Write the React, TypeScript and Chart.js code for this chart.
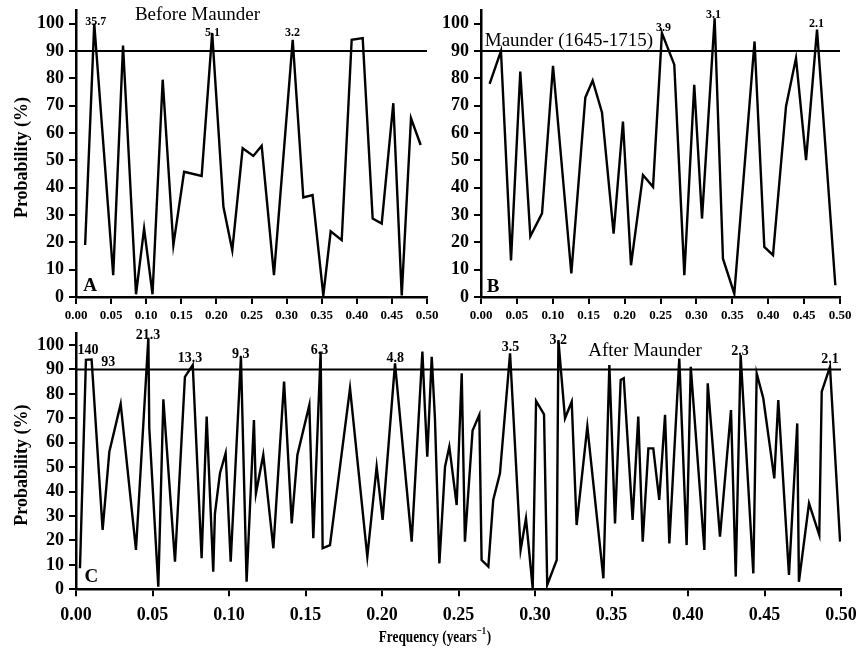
import React, { useEffect, useRef } from "react";
import { Chart, registerables } from "chart.js";

Chart.register(...registerables);

const SERIF = "'Liberation Serif', 'Times New Roman', Times, serif";

// ---------------- Data ----------------
const freqA = [0.013, 0.026, 0.053, 0.067, 0.0855, 0.097, 0.109, 0.1235, 0.1387, 0.154, 0.179, 0.194, 0.21, 0.2226, 0.2374, 0.2526, 0.2645, 0.282, 0.3087, 0.3238, 0.337, 0.3523, 0.3628, 0.3785, 0.3927, 0.4084, 0.4226, 0.4355, 0.452, 0.464, 0.4772, 0.491];
const probA = [19, 100, 8, 92, 1, 25, 1, 79.5, 19, 45.8, 44.3, 96.6, 33, 17.1, 54.4, 51.6, 55.3, 8, 94.1, 36.4, 37.3, 0.6, 24, 20.8, 94.1, 94.7, 28.7, 26.9, 70.9, 0.6, 65.4, 55.6];

const freqB = [0.012, 0.0278, 0.0418, 0.0547, 0.0687, 0.085, 0.1003, 0.1258, 0.1453, 0.1555, 0.1685, 0.1847, 0.1977, 0.2089, 0.2256, 0.2396, 0.252, 0.2692, 0.2832, 0.297, 0.3078, 0.3254, 0.337, 0.3528, 0.381, 0.3946, 0.4067, 0.4248, 0.4387, 0.4527, 0.468, 0.4935];
const probB = [78, 90, 13.4, 82.5, 22.2, 30.6, 84.6, 8.6, 73, 79.2, 67.5, 23.2, 64.2, 11.6, 44.6, 40.3, 96.6, 85, 8, 77.6, 28.7, 102, 14, 1.2, 93.5, 18.3, 15.3, 69.7, 87.4, 50.1, 97.8, 4.3];

const freqC = [
  0.0026, 0.0065, 0.0102, 0.0174, 0.0218, 0.0292, 0.0392, 0.0473, 0.0479, 0.0538,
  0.0571, 0.0588, 0.0647, 0.0712, 0.0763, 0.0821, 0.0854, 0.0865, 0.0897, 0.0908,
  0.0941, 0.0978, 0.1011, 0.1078, 0.1115, 0.1163, 0.1176, 0.1224, 0.129, 0.136,
  0.141, 0.1447, 0.1525, 0.1551, 0.1599, 0.1612, 0.166, 0.1791, 0.1904, 0.1965,
  0.2004, 0.2085, 0.2194, 0.2264, 0.2281, 0.2296, 0.2325, 0.2346, 0.2375, 0.2412,
  0.244, 0.2488, 0.2521, 0.2542, 0.2592, 0.2636, 0.2651, 0.2695, 0.2727, 0.2771,
  0.2837, 0.2906, 0.2941, 0.2985, 0.3007, 0.3059, 0.308, 0.3142, 0.3153, 0.3196,
  0.324, 0.3272, 0.3342, 0.3447, 0.3486, 0.3523, 0.356, 0.358, 0.3638, 0.3675,
  0.3704, 0.3741, 0.3773, 0.3812, 0.385, 0.3878, 0.3943, 0.3991, 0.4018, 0.4107,
  0.4129, 0.4209, 0.4281, 0.4312, 0.4344, 0.4427, 0.4449, 0.4492, 0.4564, 0.459,
  0.466, 0.4714, 0.4725, 0.4791, 0.4858, 0.4874, 0.4928, 0.4994,
];
const probC = [
  8.6, 93.9, 94.1, 24.3, 56.3, 75.9, 16.1, 103, 66, 1.1,
  77.8, 62.5, 11.3, 87, 91.8, 12.7, 70.7, 54.3, 7.2, 31,
  47.5, 55.7, 11.3, 95.2, 3.1, 69.3, 39.3, 55, 16.8, 85,
  27, 55, 75.4, 20.9, 97.3, 16.8, 18.1, 82.3, 13.4, 50.2,
  28.4, 92.5, 19.5, 97.3, 73.4, 54.3, 95.2, 70, 10.6, 50.2,
  58.4, 34.5, 88.4, 19.5, 65, 71.4, 12, 9.3, 36.6, 47.5,
  96.6, 16.1, 29, 0.4, 77.1, 71.6, 1.8, 12, 102, 70,
  76.8, 26.3, 66.6, 4.5, 91.8, 27, 85.7, 86.4, 28.4, 70.7,
  19.5, 57.7, 57.7, 36.6, 71.4, 18.8, 94.5, 18.1, 91.1, 16.1,
  84.3, 21.6, 73.4, 5.2, 95.9, 6.5, 88.4, 78.2, 45.4, 77.5,
  5.9, 67.9, 3.1, 35.2, 22.2, 80.9, 91.1, 19.5,
];

// Ticks / levels
const yTickValues = [0, 10, 20, 30, 40, 50, 60, 70, 80, 90, 100];
const xTickValues = [0, 0.05, 0.1, 0.15, 0.2, 0.25, 0.3, 0.35, 0.4, 0.45, 0.5];
const thresholdLevel = 90;
const freqMin = 0;
const freqMax = 0.5;
const probMin = 0;
const probMax = 105;

// Text annotations (anchored in data units)
const titleA = "Before Maunder";
const titleB = "Maunder (1645-1715)";
const titleC = "After Maunder";
const peakTextA = ["35.7", "5.1", "3.2"];
const peakFreqA = [0.028, 0.1944, 0.3084];
const peakProbA = [100.7, 96.8, 96.8];
const peakTextB = ["3.9", "3.1", "2.1"];
const peakFreqB = [0.2542, 0.3238, 0.4673];
const peakProbB = [98.3, 103.2, 99.9];
const peakTextC = ["140", "93", "21.3", "13.3", "9.3", "6.3", "4.8", "3.5", "3.2", "2.3", "2.1"];
const peakFreqC = [0.0078, 0.0211, 0.0471, 0.0745, 0.1077, 0.1592, 0.2087, 0.284, 0.3152, 0.434, 0.4928];
const peakProbC = [97.9, 92.8, 103.9, 94.6, 96.1, 97.9, 94.6, 98.9, 102, 97.5, 94];
const yAxisTitle = "Probability (%)";
const xAxisTitleMain = "Frequency (years";
const xAxisTitleSup = "\u22121";
const xAxisTitleEnd = ")";

type Annot = { text: string; x: number; y: number; font: string };

type PanelParams = {
  id: string;
  freq: number[];
  prob: number[];
  annots: Annot[];
  padding: { top: number; right: number; left: number; bottom: number };
  yAxisWidth: number;
  xAxisHeight: number;
  xTickSize: number;
  xTickPad: number;
  yTitle: boolean;
  xTitle: boolean;
};

function makeAnnots(texts: string[], fx: number[], fy: number[], font: string): Annot[] {
  return texts.map((t, i) => ({ text: t, x: fx[i], y: fy[i], font }));
}

function buildConfig(p: PanelParams): any {
  const points = p.freq.map((f, i) => ({ x: f, y: p.prob[i] }));
  const thresholdLine = [
    { x: freqMin, y: thresholdLevel },
    { x: freqMax, y: thresholdLevel },
  ];
  const textPlugin = {
    id: "panelText" + p.id,
    afterDraw(chart: any) {
      const { ctx, chartArea } = chart;
      const xs = chart.scales.x;
      const ys = chart.scales.y;
      ctx.save();
      ctx.fillStyle = "#000";
      ctx.textAlign = "center";
      ctx.textBaseline = "middle";
      for (const a of p.annots) {
        ctx.font = a.font;
        ctx.fillText(a.text, xs.getPixelForValue(a.x), ys.getPixelForValue(a.y));
      }
      if (p.yTitle) {
        ctx.save();
        ctx.font = `bold 18px ${SERIF}`;
        ctx.translate(chartArea.left - 54, (chartArea.top + chartArea.bottom) / 2 + 4);
        ctx.rotate(-Math.PI / 2);
        ctx.fillText(yAxisTitle, 0, 0);
        ctx.restore();
      }
      if (p.xTitle) {
        ctx.save();
        const cx = chartArea.left + 359;
        const base = chartArea.bottom + 53;
        ctx.translate(cx, base);
        ctx.scale(0.78, 1);
        ctx.textBaseline = "alphabetic";
        ctx.textAlign = "left";
        const mainFont = `bold 17px ${SERIF}`;
        const supFont = `bold 11px ${SERIF}`;
        ctx.font = mainFont;
        const w1 = ctx.measureText(xAxisTitleMain).width;
        const w3 = ctx.measureText(xAxisTitleEnd).width;
        ctx.font = supFont;
        const w2 = ctx.measureText(xAxisTitleSup).width;
        const total = w1 + w2 + w3 + 1;
        let x0 = -total / 2;
        ctx.font = mainFont;
        ctx.fillText(xAxisTitleMain, x0, 0);
        x0 += w1;
        ctx.font = supFont;
        ctx.fillText(xAxisTitleSup, x0, -8);
        x0 += w2 + 1;
        ctx.font = mainFont;
        ctx.fillText(xAxisTitleEnd, x0, 0);
        ctx.restore();
      }
      ctx.restore();
    },
  };

  return {
    type: "line",
    data: {
      datasets: [
        {
          data: points,
          borderColor: "#000",
          borderWidth: 2.4,
          pointRadius: 0,
          tension: 0,
          fill: false,
        },
        {
          data: thresholdLine,
          borderColor: "#000",
          borderWidth: 2,
          pointRadius: 0,
          tension: 0,
          fill: false,
        },
      ],
    },
    options: {
      animation: false,
      responsive: false,
      maintainAspectRatio: false,
      events: [],
      layout: { padding: p.padding },
      plugins: {
        legend: { display: false },
        tooltip: { enabled: false },
        title: { display: false },
      },
      scales: {
        x: {
          type: "linear",
          min: freqMin,
          max: freqMax,
          afterBuildTicks: (s: any) => {
            s.ticks = xTickValues.map((v) => ({ value: v }));
          },
          afterFit: (s: any) => {
            s.height = p.xAxisHeight;
            s.paddingLeft = 0;
            s.paddingRight = 0;
          },
          ticks: {
            callback: (v: any) => Number(v).toFixed(2),
            font: { family: SERIF, size: p.xTickSize, weight: "bold" },
            color: "#000",
            padding: p.xTickPad,
            maxRotation: 0,
            autoSkip: false,
          },
          grid: {
            drawOnChartArea: false,
            drawTicks: true,
            tickLength: 7,
            color: "#000",
            lineWidth: 2,
          },
          border: { color: "#000", width: 2.5 },
        },
        y: {
          type: "linear",
          min: probMin,
          max: probMax,
          afterBuildTicks: (s: any) => {
            s.ticks = yTickValues.map((v) => ({ value: v }));
          },
          afterFit: (s: any) => {
            s.width = p.yAxisWidth;
            s.paddingTop = 0;
            s.paddingBottom = 0;
          },
          ticks: {
            font: { family: SERIF, size: 18, weight: "bold", lineHeight: 1 },
            color: "#000",
            padding: 5,
            autoSkip: false,
          },
          grid: {
            drawOnChartArea: false,
            drawTicks: true,
            tickLength: 7,
            color: "#000",
            lineWidth: 2,
          },
          border: { color: "#000", width: 2.5 },
        },
      },
    },
    plugins: [textPlugin],
  };
}

const titleFont = `19px ${SERIF}`;
const letterFont = `bold 19px ${SERIF}`;
const peakFontAB = `bold 12px ${SERIF}`;
const peakFontC = `bold 14px ${SERIF}`;

const panelA: PanelParams = {
  id: "A",
  freq: freqA,
  prob: probA,
  annots: [
    { text: titleA, x: 0.173, y: 103.2, font: titleFont },
    { text: "A", x: 0.02, y: 4, font: letterFont },
    ...makeAnnots(peakTextA, peakFreqA, peakProbA, peakFontAB),
  ],
  padding: { top: 10, right: 13, left: 0, bottom: 0 },
  yAxisWidth: 76,
  xAxisHeight: 28,
  xTickSize: 13,
  xTickPad: 4,
  yTitle: true,
  xTitle: false,
};

const panelB: PanelParams = {
  id: "B",
  freq: freqB,
  prob: probB,
  annots: [
    { text: titleB, x: 0.1225, y: 93.7, font: titleFont },
    { text: "B", x: 0.017, y: 3.7, font: letterFont },
    ...makeAnnots(peakTextB, peakFreqB, peakProbB, peakFontAB),
  ],
  padding: { top: 10, right: 20, left: 0, bottom: 0 },
  yAxisWidth: 51,
  xAxisHeight: 28,
  xTickSize: 13,
  xTickPad: 4,
  yTitle: false,
  xTitle: false,
};

const panelC: PanelParams = {
  id: "C",
  freq: freqC,
  prob: probC,
  annots: [
    { text: titleC, x: 0.3719, y: 97.5, font: titleFont },
    { text: "C", x: 0.0101, y: 4.8, font: letterFont },
    ...makeAnnots(peakTextC, peakFreqC, peakProbC, peakFontC),
  ],
  padding: { top: 7.8, right: 19, left: 0, bottom: 0 },
  yAxisWidth: 76,
  xAxisHeight: 63.7,
  xTickSize: 18,
  xTickPad: 8,
  yTitle: true,
  xTitle: true,
};

function Panel(props: { params: PanelParams; left: number; top: number; width: number; height: number }) {
  const ref = useRef<HTMLCanvasElement | null>(null);
  useEffect(() => {
    if (!ref.current) return;
    const chart = new Chart(ref.current, buildConfig(props.params));
    return () => chart.destroy();
  }, []);
  return (
    <canvas
      ref={ref}
      width={props.width}
      height={props.height}
      style={{
        position: "absolute",
        left: props.left,
        top: props.top,
        width: props.width,
        height: props.height,
      }}
    />
  );
}

export default function App() {
  return (
    <div
      style={{
        position: "absolute",
        left: 0,
        top: 0,
        width: 860,
        height: 653,
        background: "#fff",
        overflow: "hidden",
      }}
    >
      <Panel params={panelA} left={0} top={0} width={440} height={325} />
      <Panel params={panelB} left={430} top={0} width={430} height={325} />
      <Panel params={panelC} left={0} top={325} width={860} height={328} />
    </div>
  );
}
